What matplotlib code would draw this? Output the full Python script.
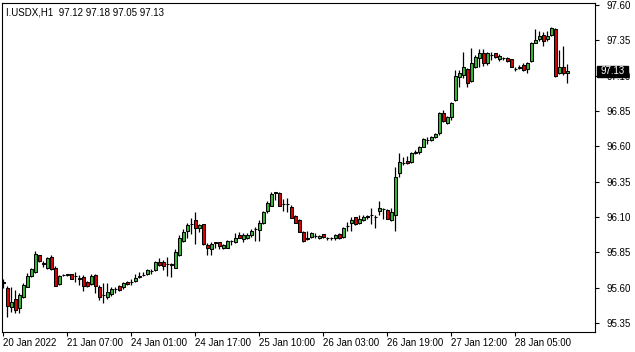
import matplotlib
matplotlib.use('Agg')
import matplotlib.pyplot as plt
import matplotlib.transforms as mtransforms
from matplotlib.patches import Rectangle
import numpy as np

# I.USDX H1 candles
opens = [95.64, 95.60, 95.463, 95.519, 95.456, 95.533, 95.604, 95.682, 95.710, 95.830,
         95.774, 95.739, 95.816, 95.739, 95.625, 95.69, 95.69, 95.696, 95.685, 95.668,
         95.675, 95.64, 95.625, 95.69, 95.604, 95.547, 95.533, 95.554, 95.59, 95.611,
         95.604, 95.64, 95.64, 95.647, 95.675, 95.69, 95.696, 95.717, 95.724, 95.781,
         95.781, 95.767, 95.76, 95.739, 95.83, 95.93, 96.0, 96.05, 96.078, 96.022,
         96.05, 95.90, 95.873, 95.918, 95.923, 95.88, 95.88, 95.93, 95.923, 95.972,
         95.944, 95.951, 95.972, 96.014, 96.007, 96.057, 96.142, 96.177, 96.27, 96.27,
         96.19, 96.19, 96.17, 96.107, 96.078, 95.993, 95.944, 95.958, 95.965, 95.951,
         95.979, 95.951, 95.951, 95.951, 95.979, 95.958, 96.036, 96.057, 96.1, 96.057,
         96.078, 96.1, 96.114, 96.1, 96.142, 96.156, 96.15, 96.078, 96.114, 96.41,
         96.482, 96.496, 96.489, 96.553, 96.56, 96.595, 96.645, 96.645, 96.666, 96.694,
         96.836, 96.765, 96.807, 96.928, 97.09, 97.104, 97.147, 97.062, 97.161, 97.225,
         97.26, 97.19, 97.246, 97.26, 97.218, 97.225, 97.225, 97.218, 97.147, 97.154,
         97.175, 97.147, 97.204, 97.331, 97.359, 97.387, 97.359, 97.388, 97.43, 97.118,
         97.161, 97.12]
highs = [95.66, 95.61, 95.604, 95.583, 95.562, 95.632, 95.703, 95.739, 95.859, 95.832,
         95.788, 95.816, 95.83, 95.75, 95.69, 95.695, 95.70, 95.70, 95.71, 95.69,
         95.69, 95.645, 95.70, 95.70, 95.618, 95.632, 95.632, 95.604, 95.604, 95.62,
         95.64, 95.65, 95.66, 95.70, 95.71, 95.71, 95.73, 95.73, 95.788, 95.81,
         95.795, 95.816, 95.774, 95.873, 95.972, 96.014, 96.057, 96.092, 96.135, 96.05,
         96.05, 95.915, 95.923, 95.923, 95.923, 95.908, 95.937, 95.937, 95.986, 95.993,
         95.986, 95.986, 96.014, 96.03, 96.078, 96.142, 96.213, 96.277, 96.277, 96.277,
         96.227, 96.234, 96.184, 96.114, 96.085, 96.0, 96.0, 95.993, 95.986, 95.972,
         95.979, 95.958, 95.958, 95.979, 95.986, 96.03, 96.064, 96.1, 96.1, 96.114,
         96.114, 96.114, 96.163, 96.114, 96.21, 96.163, 96.156, 96.163, 96.454, 96.553,
         96.525, 96.532, 96.56, 96.574, 96.603, 96.659, 96.666, 96.673, 96.695, 96.843,
         96.857, 96.815, 96.914, 97.14, 97.14, 97.267, 97.154, 97.296, 97.246, 97.288,
         97.288, 97.267, 97.267, 97.26, 97.253, 97.232, 97.232, 97.218, 97.161, 97.175,
         97.19, 97.197, 97.338, 97.43, 97.416, 97.409, 97.416, 97.444, 97.437, 97.282,
         97.31, 97.18]
lows = [95.60, 95.39, 95.427, 95.42, 95.42, 95.526, 95.604, 95.675, 95.703, 95.785,
        95.746, 95.732, 95.725, 95.611, 95.62, 95.685, 95.685, 95.66, 95.64, 95.62,
        95.58, 95.605, 95.62, 95.56, 95.512, 95.49, 95.519, 95.54, 95.562, 95.575,
        95.59, 95.62, 95.62, 95.64, 95.668, 95.68, 95.69, 95.70, 95.717, 95.753,
        95.724, 95.682, 95.675, 95.739, 95.823, 95.923, 95.951, 95.979, 95.908, 95.993,
        95.90, 95.83, 95.83, 95.88, 95.873, 95.873, 95.88, 95.90, 95.915, 95.951,
        95.923, 95.944, 95.958, 95.93, 95.93, 96.05, 96.128, 96.177, 96.22, 96.177,
        96.142, 96.135, 96.092, 96.057, 95.993, 95.923, 95.937, 95.951, 95.951, 95.944,
        95.951, 95.937, 95.937, 95.937, 95.944, 95.951, 96.0, 96.0, 96.043, 96.05,
        96.07, 96.085, 96.05, 96.022, 96.114, 96.085, 96.085, 96.07, 96.0, 96.383,
        96.468, 96.475, 96.482, 96.546, 96.546, 96.595, 96.617, 96.638, 96.66, 96.68,
        96.772, 96.758, 96.786, 96.92, 97.02, 97.083, 97.02, 97.055, 97.154, 97.161,
        97.168, 97.175, 97.21, 97.225, 97.204, 97.211, 97.197, 97.161, 97.133, 97.147,
        97.133, 97.118, 97.197, 97.331, 97.345, 97.31, 97.345, 97.38, 97.09, 97.111,
        97.104, 97.05]
closes = [95.63, 95.47, 95.498, 95.441, 95.548, 95.618, 95.682, 95.731, 95.837, 95.788,
          95.767, 95.809, 95.732, 95.611, 95.682, 95.69, 95.696, 95.661, 95.682, 95.665,
          95.611, 95.61, 95.682, 95.611, 95.533, 95.547, 95.569, 95.59, 95.59, 95.583,
          95.632, 95.625, 95.64, 95.668, 95.682, 95.69, 95.725, 95.717, 95.781, 95.76,
          95.753, 95.767, 95.767, 95.852, 95.951, 95.993, 96.043, 96.05, 96.022, 96.043,
          95.908, 95.88, 95.908, 95.923, 95.894, 95.90, 95.93, 95.93, 95.951, 95.951,
          95.972, 95.972, 96.0, 96.014, 96.057, 96.135, 96.198, 96.26, 96.277, 96.177,
          96.19, 96.19, 96.092, 96.057, 95.993, 95.93, 95.951, 95.986, 95.965, 95.965,
          95.958, 95.951, 95.951, 95.972, 95.951, 96.022, 96.036, 96.078, 96.05, 96.085,
          96.1, 96.107, 96.114, 96.1, 96.163, 96.156, 96.085, 96.135, 96.383, 96.489,
          96.482, 96.482, 96.553, 96.56, 96.595, 96.652, 96.645, 96.666, 96.687, 96.836,
          96.779, 96.807, 96.907, 97.097, 97.118, 97.161, 97.048, 97.19, 97.232, 97.26,
          97.19, 97.26, 97.246, 97.232, 97.239, 97.225, 97.204, 97.161, 97.147, 97.161,
          97.14, 97.19, 97.331, 97.352, 97.38, 97.345, 97.38, 97.437, 97.097, 97.161,
          97.118, 97.13]

time_labels = ['20 Jan 2022', '21 Jan 07:00', '24 Jan 01:00', '24 Jan 17:00', '25 Jan 10:00',
               '26 Jan 03:00', '26 Jan 19:00', '27 Jan 12:00', '28 Jan 05:00']
price_ticks = [95.35, 95.60, 95.85, 96.10, 96.35, 96.60, 96.85, 97.10, 97.35, 97.60]
title = 'I.USDX,H1  97.12 97.18 97.05 97.13'

plt.rcParams['font.family'] = ['Liberation Sans', 'DejaVu Sans']

o = np.array(opens)
h = np.array(highs)
l = np.array(lows)
c = np.array(closes)
x = np.arange(len(o))

fig = plt.figure(figsize=(6.35, 3.52), dpi=100)
ax = fig.add_axes([2 / 635, 20.5 / 352, 593 / 635, 329 / 352])

up = c >= o
ax.vlines(x, l, h, color='black', linewidth=0.9, zorder=1)
ax.bar(x[up], (c - o)[up], bottom=o[up], width=0.75, color='#35b835',
       edgecolor='black', linewidth=0.75, zorder=2)
ax.bar(x[~up], (o - c)[~up], bottom=c[~up], width=0.75, color='#dd0000',
       edgecolor='black', linewidth=0.75, zorder=2)

ax.set_xlim(-0.3, 147.9)
ax.set_ylim(95.290, 97.618)

ax.yaxis.tick_right()
ax.set_yticks(price_ticks)
ax.set_yticklabels(['%.2f' % v for v in price_ticks])
ax.set_xticks([16 * i for i in range(len(time_labels))])
ax.set_xticklabels(time_labels, ha='left')
ax.tick_params(axis='both', direction='out', length=3, width=0.8, labelsize=7, colors='black', pad=2)
ax.tick_params(axis='y', pad=5)
for s in ax.spines.values():
    s.set_linewidth(0.8)

ax.text(0.006, 0.985, title, transform=ax.transAxes, fontsize=7, va='top', ha='left')

# current price tag on the right scale
last = closes[-1]
tr = mtransforms.blended_transform_factory(ax.transAxes, ax.transData)
ax.add_patch(Rectangle((1.003, last - 0.04), 0.053, 0.08, transform=tr,
                       facecolor='black', edgecolor='black', clip_on=False, zorder=10))
ax.text(1.0295, last, '%.2f' % last, transform=tr, fontsize=7, color='white',
        ha='center', va='center', zorder=11, clip_on=False)

fig.savefig('out.png', dpi=100)
